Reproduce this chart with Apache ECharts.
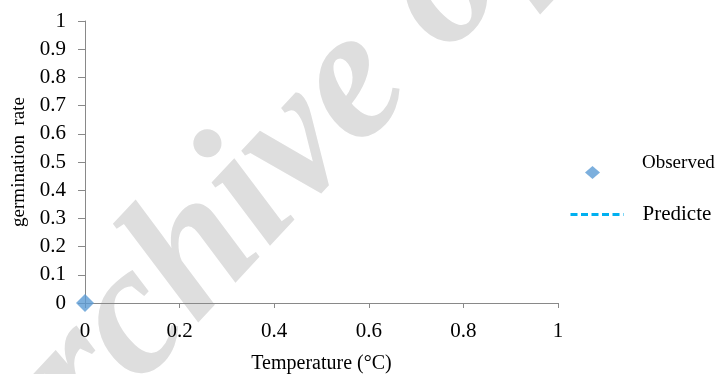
<!DOCTYPE html>
<html>
<head>
<meta charset="utf-8">
<script src="https://cdn.jsdelivr.net/npm/echarts@6/dist/echarts.min.js"></script>
<style>
  html, body { margin: 0; padding: 0; background: #ffffff; }
  #chart { width: 728px; height: 374px; }
</style>
</head>
<body>
<div id="chart"></div>
<script>
// ---- data ----
const observedTemp = [0];
const observedRate = [0];
const predictedTemp = [];
const predictedRate = [];
const seriesNames = ['Observed', 'Predicte'];
const xAxisTitle = 'Temperature (°C)';
const yAxisTitle = 'germination  rate';
const xTickValues = [0, 0.2, 0.4, 0.6, 0.8, 1];
const yTickValues = [0, 0.1, 0.2, 0.3, 0.4, 0.5, 0.6, 0.7, 0.8, 0.9, 1];
const watermarkText = 'Archive of SID';

const FONT = '"Liberation Serif", "Times New Roman", serif';
const AXIS_COLOR = '#898989';

const observedData = observedTemp.map((t, i) => [t, observedRate[i]]);
const predictedData = predictedTemp.map((t, i) => [t, predictedRate[i]]);

const chart = echarts.init(document.getElementById('chart'), null, { renderer: 'canvas' });

chart.setOption({
  backgroundColor: '#ffffff',
  animation: false,
  textStyle: { fontFamily: FONT, color: '#000' },
  graphic: [{
    type: 'text',
    z: -10,
    x: 366,
    y: 72,
    rotation: 47 * Math.PI / 180,
    silent: true,
    style: {
      text: watermarkText,
      fontFamily: 'Liberation Serif',
      fontStyle: 'italic',
      fontWeight: 'bold',
      fontSize: 187,
      fill: '#dedede',
      align: 'center',
      verticalAlign: 'middle'
    }
  }],
  grid: { left: 85, right: 170, top: 21, bottom: 71, containLabel: false, outerBoundsMode: 'none' },
  xAxis: {
    type: 'value',
    min: xTickValues[0],
    max: xTickValues[xTickValues.length - 1],
    interval: 0.2,
    name: xAxisTitle,
    nameLocation: 'middle',
    nameGap: 51,
    nameTextStyle: { fontFamily: FONT, fontSize: 20, color: '#000' },
    axisLine: { show: true, lineStyle: { color: AXIS_COLOR, width: 1 } },
    axisTick: { show: true, inside: false, length: 5, lineStyle: { color: AXIS_COLOR } },
    axisLabel: { fontFamily: FONT, fontSize: 21, color: '#000', margin: 18 },
    splitLine: { show: false }
  },
  yAxis: {
    type: 'value',
    min: yTickValues[0],
    max: yTickValues[yTickValues.length - 1],
    interval: 0.1,
    name: yAxisTitle,
    nameLocation: 'middle',
    nameGap: 56,
    nameTextStyle: { fontFamily: FONT, fontSize: 19, color: '#000' },
    axisLine: { show: true, lineStyle: { color: AXIS_COLOR, width: 1 } },
    axisTick: { show: true, inside: false, length: 7, lineStyle: { color: AXIS_COLOR } },
    axisLabel: { fontFamily: FONT, fontSize: 21, color: '#000', margin: 19 },
    splitLine: { show: false }
  },
  legend: [{
    data: [{ name: seriesNames[0], icon: 'diamond' }],
    left: 585,
    top: 154,
    padding: 0,
    itemWidth: 15,
    itemHeight: 13,
    formatter: name => name + '\n ',
    textStyle: { fontFamily: FONT, fontSize: 19, lineHeight: 18, color: '#000', padding: [0, 0, 0, 37] }
  }, {
    data: [seriesNames[1]],
    left: 569,
    top: 204,
    padding: 0,
    itemWidth: 53,
    itemHeight: 14,
    itemStyle: { opacity: 0 },
    lineStyle: { color: '#00B0F0', width: 3, type: [7, 3.5] },
    textStyle: { fontFamily: FONT, fontSize: 21, color: '#000', padding: [0, 0, 0, 14] }
  }],
  series: [{
    name: seriesNames[0],
    type: 'scatter',
    data: observedData,
    symbol: 'diamond',
    symbolSize: 18,
    clip: false,
    itemStyle: { color: '#5B9BD5' },
    z: 5
  }, {
    name: seriesNames[1],
    type: 'line',
    data: predictedData,
    symbol: 'none',
    showSymbol: false,
    itemStyle: { color: '#00B0F0' },
    lineStyle: { color: '#00B0F0', width: 3, type: [7, 3.5] }
  }]
});
</script>
</body>
</html>
